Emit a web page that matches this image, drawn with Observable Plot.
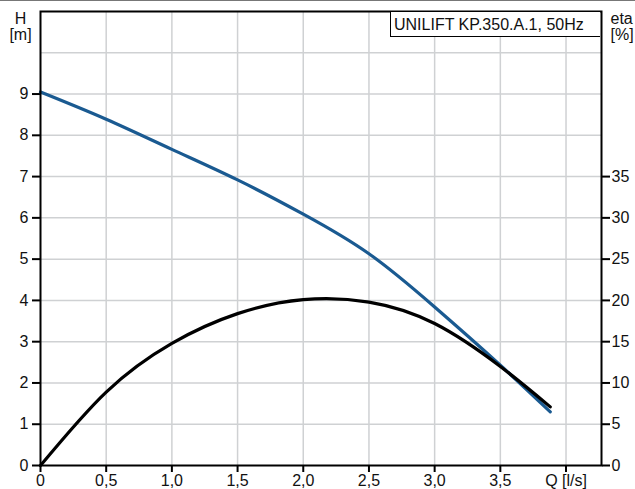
<!DOCTYPE html>
<html>
<head>
<meta charset="utf-8">
<script src="https://cdn.jsdelivr.net/npm/d3@7"></script>
<script src="https://cdn.jsdelivr.net/npm/@observablehq/plot@0.6"></script>
<style>
  html, body { margin: 0; padding: 0; background: #fff; }
  #wrap { position: relative; width: 635px; height: 489px; overflow: hidden; font-family: "Liberation Sans", Arial, sans-serif; }
  #topline { position: absolute; left: 0; top: 0; width: 635px; height: 1px; background: #777; }
  #titlebox { position: absolute; left: 390px; top: 11px; width: 210px; height: 26px; box-sizing: border-box;
              border: 1px solid #000; border-right: none; background: #fff; font-size: 16px; line-height: 25px;
              padding-left: 3px; color: #111; white-space: nowrap; }
</style>
</head>
<body>
<div id="wrap"><div id="topline"></div></div>
<script>
const chartTitle = "UNILIFT KP.350.A.1, 50Hz";

// Head curve H [m] vs Q [l/s]
const qHead = [0, 0.5, 1.0, 1.5, 2.0, 2.5, 3.0, 3.5, 3.88];
const hHead = [9.05, 8.39, 7.66, 6.92, 6.09, 5.13, 3.84, 2.43, 1.30];

// Efficiency curve eta [%] vs Q [l/s]
const qEta = [0, 0.5, 1.0, 1.5, 2.0, 2.5, 3.0, 3.5, 3.88];
const etaVals = [0, 8.9, 14.8, 18.4, 20.1, 19.8, 17.2, 12.0, 7.1];

// Axis ticks
const xTicks = [0, 0.5, 1.0, 1.5, 2.0, 2.5, 3.0, 3.5, 4.0];
const hTicks = [0, 1, 2, 3, 4, 5, 6, 7, 8, 9];
const hGrid = [1, 2, 3, 4, 5, 6, 7, 8, 9, 10];
const etaTicks = [0, 5, 10, 15, 20, 25, 30, 35];
const etaPerMeter = 5; // 1 m on the left axis = 5 % on the right axis

const headData = qHead.map((q, i) => ({q, v: hHead[i]}));
const etaData = qEta.map((q, i) => ({q, v: etaVals[i] / etaPerMeter}));

const fmtX = d => d === 4 ? "Q [l/s]" : (d === 0 ? "0" : d.toFixed(1).replace(".", ","));

const chart = Plot.plot({
  width: 635,
  height: 489,
  marginLeft: 40,
  marginRight: 34,
  marginTop: 11,
  marginBottom: 24,
  style: {fontFamily: "'Liberation Sans', Arial, sans-serif", fontSize: "16px", color: "#111", background: "#fff"},
  x: {domain: [0, 4.27]},
  y: {domain: [0, 11]},
  marks: [
    Plot.gridX(xTicks.filter(d => d > 0), {stroke: "#cfd1d3", strokeOpacity: 1, strokeWidth: 1.5}),
    Plot.gridY(hGrid, {stroke: "#cfd1d3", strokeOpacity: 1, strokeWidth: 1.5}),
    Plot.axisX({ticks: xTicks, tickFormat: fmtX, tickSize: 7, tickPadding: 2, strokeWidth: 2, stroke: "#000", fontSize: 16, label: null}),
    Plot.axisY({anchor: "left", ticks: hTicks, tickSize: 8, tickPadding: 4, strokeWidth: 2, stroke: "#000", fontSize: 16, label: null}),
    Plot.axisY({anchor: "right", ticks: etaTicks.map(d => d / etaPerMeter), tickFormat: d => String(Math.round(d * etaPerMeter)),
                tickSize: 8, tickPadding: 2, strokeWidth: 2, stroke: "#000", fontSize: 16, label: null}),
    Plot.line(headData, {x: "q", y: "v", curve: "natural", stroke: "#1a5a91", strokeWidth: 3.2}),
    Plot.line(etaData, {x: "q", y: "v", curve: "natural", stroke: "#000", strokeWidth: 3.2}),
    Plot.frame({stroke: "#000", strokeWidth: 2}),
    Plot.text(["H\n[m]"], {frameAnchor: "top-left", dx: -20, dy: 1, textAnchor: "middle", lineAnchor: "top", lineHeight: 1.0, fontSize: 16, fill: "#111"}),
    Plot.text(["eta\n[%]"], {frameAnchor: "top-right", dx: 9, dy: 1, textAnchor: "start", lineAnchor: "top", lineHeight: 1.0, fontSize: 16, fill: "#111"})
  ]
});

const wrap = document.getElementById("wrap");
wrap.insertBefore(chart, wrap.firstChild);
const box = document.createElement("div");
box.id = "titlebox";
box.textContent = chartTitle;
wrap.appendChild(box);
</script>
</body>
</html>
